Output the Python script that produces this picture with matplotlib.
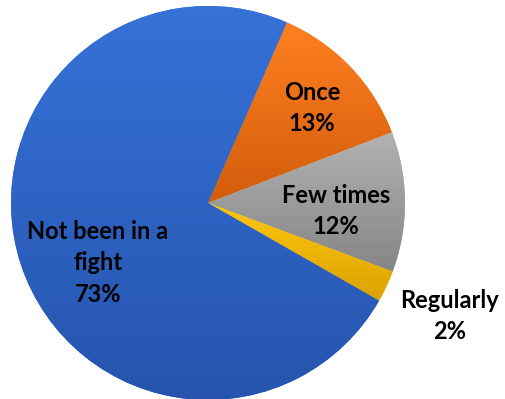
import numpy as np
import matplotlib.pyplot as plt
from matplotlib.colors import LinearSegmentedColormap

# Data
labels = ['Once', 'Few times', 'Regularly', 'Not been in a\nfight']
values = [12.6, 11.5, 2.6, 73.3]
pct_labels = ['13%', '12%', '2%', '73%']
light = ['#FF8020', '#B2B2B2', '#FFC610', '#3672D8']
dark = ['#D25C0C', '#858585', '#DCA200', '#2654AE']

fig = plt.figure(figsize=(5.05, 3.99), dpi=100)
ax = fig.add_axes([0, 0, 1, 1])
ax.axis('off')

wedges, _ = ax.pie(values, center=(208, 196), radius=197, startangle=66.4,
                   counterclock=False, colors=light,
                   wedgeprops=dict(linewidth=0))
ax.set_xlim(0, 505)
ax.set_ylim(0, 399)
ax.set_aspect('equal')

# vertical gradient in each slice, light at the top
grad = np.linspace(1, 0, 256).reshape(-1, 1)
for w, c1, c2 in zip(wedges, light, dark):
    verts = w.get_patch_transform().transform(w.get_path().vertices)
    x0, y0 = verts.min(axis=0)
    x1, y1 = verts.max(axis=0)
    cmap = LinearSegmentedColormap.from_list('g', [c2, c1])
    im = ax.imshow(grad, cmap=cmap, extent=(x0, x1, y0, y1), aspect='auto',
                   origin='upper', zorder=1, interpolation='bilinear')
    im.set_clip_path(w)
ax.set_xlim(0, 505)
ax.set_ylim(0, 399)

# label positions (pixel coords in the axes)
pos = [(312, 291), (336, 188), (450, 83), (98, 136)]
for (x, y), lab, p in zip(pos, labels, pct_labels):
    ax.text(x, y, lab + '\n' + p, ha='center', va='center', fontsize=17,
            fontweight='bold', family='Lato', linespacing=1.45, color='black',
            zorder=3)

fig.savefig('out.png', dpi=100)
